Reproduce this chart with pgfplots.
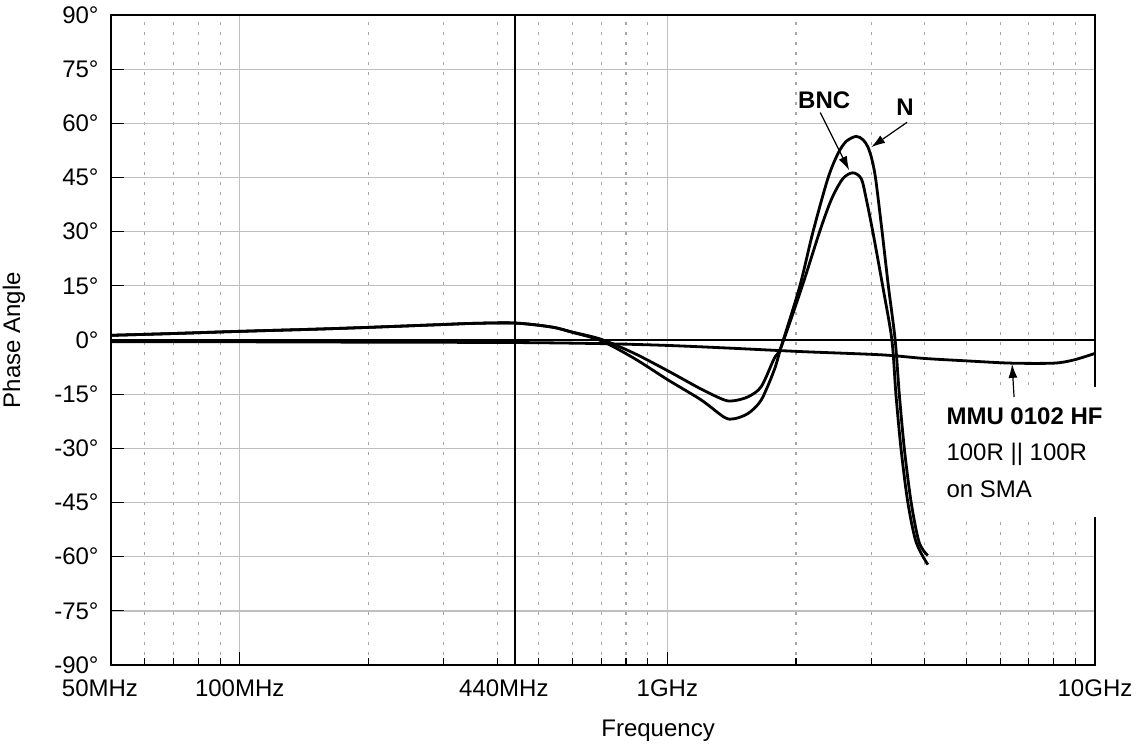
\documentclass[border=0pt]{standalone}
\usepackage{fontspec}
\setmainfont{Liberation Sans}
\usepackage{pgfplots}
\pgfplotsset{compat=1.18}
\usetikzlibrary{arrows.meta}
\pgfplotstableread{
f deg
50 -0.5
100 -0.5
200 -0.6
440 -0.7
700 -1.0
1000 -1.5
1430 -2.3
2050 -3.2
3162 -4.1
3986 -5.1
5050 -5.8
6364 -6.4
8020 -6.4
8935 -5.5
10000 -3.7
}\mmu
\pgfplotstableread{
f deg
50 1.3
70 1.8
100 2.4
150 3.0
200 3.5
300 4.3
350 4.6
440 4.7
536 3.6
600 2.1
700 -0.2
837 -5.1
1005 -11.1
1200 -16.6
1359 -21.4
1434 -21.8
1546 -20.3
1658 -16.6
1778 -8.3
1847 -1.8
2038 14.7
2190 29.9
2373 44.7
2505 51.6
2619 55.0
2765 56.4
2871 55.4
2940 53.6
2990 51.2
3035 48.0
3079 43.5
3179 29.9
3289 14.7
3410 0
3488 -15.2
3585 -30.4
3717 -45
3880 -56
4066 -59.7
}\ncurve
\pgfplotstableread{
f deg
50 1.3
70 1.8
100 2.4
150 3.0
200 3.5
300 4.3
350 4.6
440 4.7
536 3.6
600 2.2
700 0.2
837 -3.7
1005 -8.6
1200 -13.6
1359 -16.6
1434 -16.8
1546 -15.7
1658 -12.9
1778 -5.1
1847 -1.8
2064 14.7
2269 29.9
2420 39.0
2573 44.7
2716 46.3
2840 44.7
2913 39.5
3024 29.9
3191 14.7
3350 0
3425 -15.2
3521 -30.4
3651 -45
3818 -56
4066 -62.2
}\bnc
\begin{document}
\fontsize{12}{14}\selectfont
\begin{tikzpicture}
\begin{axis}[
  set layers,
  clip=false,
  scale only axis, width=492pt, height=325pt,
  xmode=log, xmin=50, xmax=10000, ymin=-90, ymax=90,
  xtick={100,1000,10000}, xticklabels={100MHz,1GHz,10GHz},
  extra x ticks={50,440}, extra x tick labels={50MHz,440MHz},
  extra x tick style={grid=major, xticklabel style={xshift=-5.5pt}, major grid style={black, solid, line width=0.7pt}},
  minor xtick={60,70,80,90,200,300,400,500,600,700,800,900,2000,3000,4000,5000,6000,7000,8000,9000},
  ytick={-90,-75,-60,-45,-30,-15,15,30,45,60,75,90},
  yticklabels={-90°,-75°,-60°,-45°,-30°,-15°,15°,30°,45°,60°,75°,90°},
  extra y ticks={0}, extra y tick labels={0°},
  extra y tick style={grid=major, major grid style={black, solid, line width=0.7pt}},
  xmajorgrids, xminorgrids, ymajorgrids,
  major grid style={black!25, line width=0.65pt},
  minor grid style={black!35, line width=0.6pt, dash pattern=on 1.3pt off 3.7pt},
  tick align=inside, xtick pos=bottom, ytick pos=left,
  major tick length=6.5pt, minor tick length=3.5pt,
  tick style={black, line width=0.6pt},
  axis line style={black, line width=0.9pt},
  xlabel={Frequency}, ylabel={Phase Angle},
  xlabel style={at={(rel axis cs:0.556,-0.1015)}, anchor=center},
  ylabel style={at={(rel axis cs:-0.0986,0.5)}, anchor=center},
  yticklabel style={xshift=-2pt, inner ysep=0pt},
  xticklabel style={yshift=-7pt, inner ysep=0pt},
]
\addplot[black, line width=1.4pt, smooth, tension=0.5] table[x=f,y=deg] {\mmu};
\addplot[black, line width=1.4pt, smooth, tension=0.5] table[x=f,y=deg] {\ncurve};
\addplot[black, line width=1.4pt, smooth, tension=0.5] table[x=f,y=deg] {\bnc};
\fill[white] (axis cs:4007,-13.0) rectangle (rel axis cs:1.006,0.2283);
\node[anchor=west, align=left, inner sep=0pt, font=\fontsize{12}{18.25}\selectfont] at (axis cs:4486,-31.2) {\textbf{MMU 0102 HF}\\100R || 100R\\on SMA};
\node[font=\bfseries] at (axis cs:2327,66.4) {BNC};
\node[font=\bfseries] at (axis cs:3598,64.4) {N};
\draw[-{Latex[length=7pt,width=4.5pt]}, line width=0.6pt] (axis cs:2278,63.0) -- (axis cs:2662,47.0);
\draw[-{Latex[length=7pt,width=4.5pt]}, line width=0.6pt] (axis cs:3637,60.3) -- (axis cs:2997,53.4);
\draw[-{Latex[length=7pt,width=4.5pt]}, line width=0.6pt] (axis cs:6468,-15.8) -- (axis cs:6400,-6.6);
\coordinate (BL) at (rel axis cs:-0.1128,-0.1354);
\coordinate (TR) at (rel axis cs:1.0437,1.0231);
\end{axis}
\pgfresetboundingbox
\path[use as bounding box] (BL) rectangle (TR);
\end{tikzpicture}
\end{document}
